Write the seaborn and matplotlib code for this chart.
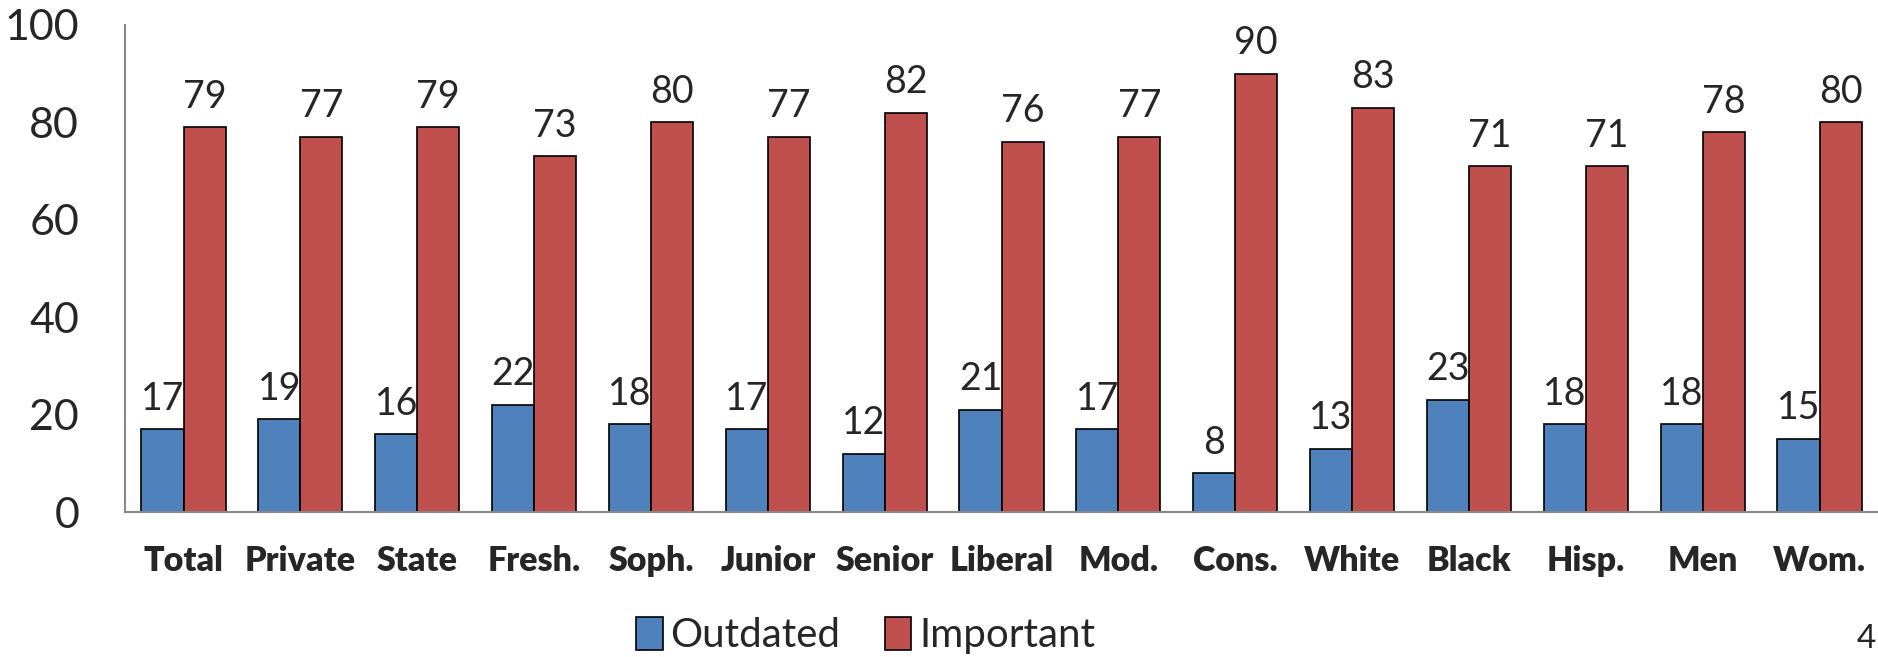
import pandas as pd
import matplotlib.pyplot as plt
import seaborn as sns

categories = ['Total', 'Private', 'State', 'Fresh.', 'Soph.', 'Junior', 'Senior', 'Liberal',
              'Mod.', 'Cons.', 'White', 'Black', 'Hisp.', 'Men', 'Wom.']
outdated = [17, 19, 16, 22, 18, 17, 12, 21, 17, 8, 13, 23, 18, 18, 15]
important = [79, 77, 79, 73, 80, 77, 82, 76, 77, 90, 83, 71, 71, 78, 80]
series = ['Outdated', 'Important']
colors = ['#4F81BD', '#C0504D']

df = pd.DataFrame({
    'group': categories * 2,
    'value': outdated + important,
    'series': [series[0]] * len(categories) + [series[1]] * len(categories),
})

sns.set_style('white')
plt.rcParams['font.family'] = ['Lato', 'DejaVu Sans']

fig = plt.figure(figsize=(18.78, 6.57), dpi=100)
ax = fig.add_axes([0.0666, 0.2207, 0.9334, 0.7413])

sns.barplot(data=df, x='group', y='value', hue='series', palette=colors,
            width=0.72, gap=0, edgecolor='black', linewidth=1.2, saturation=1, ax=ax)

for c in ax.containers:
    ax.bar_label(c, fmt='%d', padding=9, fontsize=27)

ax.set_ylim(0, 100)
ax.set_xlim(-0.5, 14.5)
ax.set_yticks(range(0, 101, 20))
ax.set_xlabel('')
ax.set_ylabel('')
ax.tick_params(axis='y', length=0, pad=33, labelsize=31)
ax.tick_params(axis='x', length=0, pad=24, labelsize=24.5)
for lbl in ax.get_xticklabels():
    lbl.set_fontweight('heavy')

for s in ['top', 'right']:
    ax.spines[s].set_visible(False)
for s in ['left', 'bottom']:
    ax.spines[s].set_color('#888888')
    ax.spines[s].set_linewidth(1.5)

ax.legend(loc='center', bbox_to_anchor=(0.461, 0.033), bbox_transform=fig.transFigure,
          ncol=2, frameon=False, fontsize=29, handlelength=0.65, handleheight=0.9,
          handletextpad=0.2, columnspacing=1.1)

fig.text(0.999, 0.005, '4', fontsize=24, ha='right', va='bottom')

fig.savefig('out.png', dpi=100)
